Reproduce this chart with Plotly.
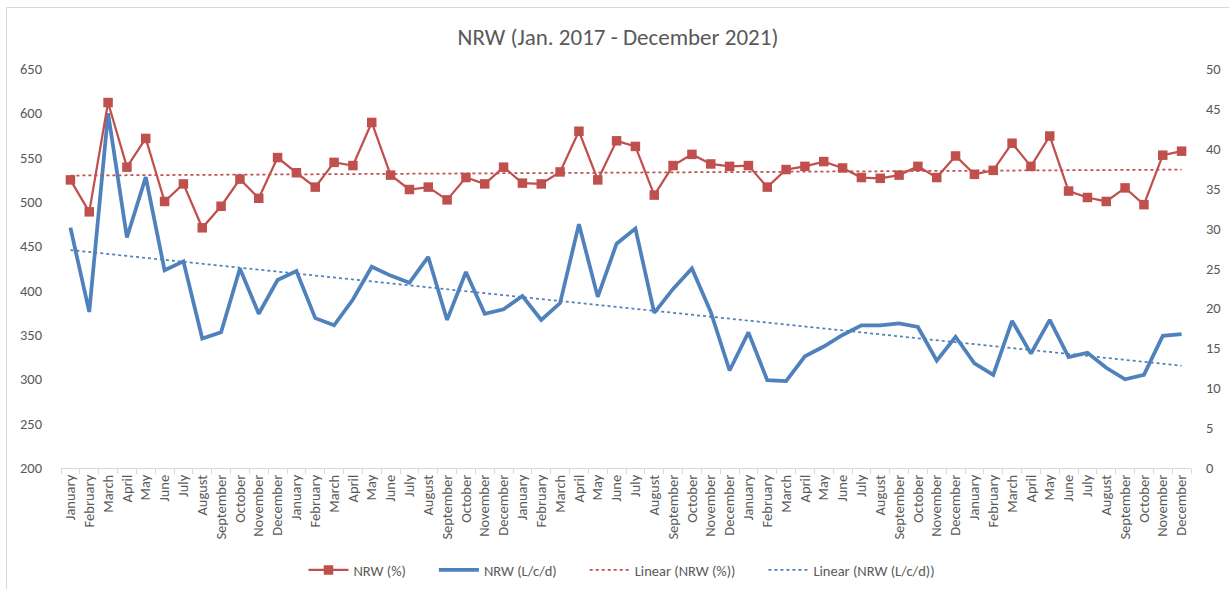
import numpy as np
import plotly.graph_objects as go

months = ["January", "February", "March", "April", "May", "June", "July",
          "August", "September", "October", "November", "December"]
years = [2017, 2018, 2019, 2020, 2021]
tick_labels = months * len(years)

# NRW (%) - right axis
nrw_pct = [36.1, 32.1, 45.8, 37.7, 41.3, 33.4, 35.6, 30.1, 32.8, 36.2, 33.8, 38.9,
           37.0, 35.2, 38.3, 37.9, 43.3, 36.7, 34.9, 35.2, 33.6, 36.4, 35.6, 37.7,
           35.7, 35.6, 37.1, 42.2, 36.1, 41.0, 40.3, 34.2, 37.9, 39.3, 38.1, 37.8,
           37.9, 35.2, 37.4, 37.8, 38.4, 37.6, 36.4, 36.3, 36.7, 37.8, 36.4, 39.1,
           36.8, 37.3, 40.7, 37.8, 41.6, 34.7, 33.9, 33.4, 35.1, 33.0, 39.2, 39.7]

# NRW (L/c/d) - left axis
nrw_lcd = [471, 376, 600, 460, 528, 423, 433, 346, 353, 425, 374, 412,
           422, 369, 361, 390, 427, 417, 409, 438, 367, 421, 374, 379,
           394, 367, 386, 475, 393, 453, 470, 375, 402, 425, 376, 310,
           353, 299, 298, 326, 337, 350, 361, 361, 363, 359, 321, 348,
           318, 305, 366, 329, 367, 325, 330, 313, 300, 305, 349, 351]

series_names = ["NRW (%)", "NRW (L/c/d)", "Linear (NRW (%))", "Linear (NRW (L/c/d))"]

x = np.arange(len(tick_labels))

# Linear trendlines (least squares, like Excel "Linear" trendline)
p_pct = np.polyfit(x, nrw_pct, 1)
p_lcd = np.polyfit(x, nrw_lcd, 1)
trend_pct = np.polyval(p_pct, x)
trend_lcd = np.polyval(p_lcd, x)

RED = "#C0504D"
BLUE = "#4F81BD"
TXT = "#595959"
FONT = "Carlito, Calibri, Lato, sans-serif"
PAD = "\u00a0" * 7

fig = go.Figure()
fig.add_trace(go.Scatter(x=x, y=nrw_pct, name=series_names[0] + PAD, yaxis="y2",
                         mode="lines+markers", line=dict(color=RED, width=2.25),
                         marker=dict(symbol="square", size=9.5, color=RED)))
fig.add_trace(go.Scatter(x=x, y=nrw_lcd, name=series_names[1] + PAD, mode="lines",
                         line=dict(color=BLUE, width=3.75)))
fig.add_trace(go.Scatter(x=x, y=trend_pct, name=series_names[2] + PAD, yaxis="y2", mode="lines",
                         line=dict(color=RED, width=1.75, dash="dot")))
fig.add_trace(go.Scatter(x=x, y=trend_lcd, name=series_names[3], mode="lines",
                         line=dict(color=BLUE, width=1.75, dash="dot")))

L, R, T, B = 61, 38, 69, 121
W, H = 1229, 589
pw, ph = W - L - R, H - T - B

def px_x(p):
    return (p - L) / pw

def px_y(p):
    return (H - B - p) / ph

fig.update_layout(
    width=W, height=H,
    margin=dict(l=L, r=R, t=T, b=B, pad=0, autoexpand=False),
    paper_bgcolor="white", plot_bgcolor="white",
    font=dict(family=FONT, size=14, color=TXT),
    title=dict(text="NRW (Jan. 2017 - December 2021)", x=px_x(618), xref="paper",
               xanchor="center", y=1 - 37 / H, yref="container", yanchor="middle",
               font=dict(size=23, color=TXT, family=FONT)),
    xaxis=dict(range=[-0.5, len(x) - 0.5], tickvals=list(x), ticktext=tick_labels,
               tickangle=-90, ticks="", showgrid=False, zeroline=False,
               showline=True, linecolor="#D9D9D9", linewidth=1, automargin=False,
               tickfont=dict(size=14.5, color=TXT, family=FONT),
               minor=dict(tickvals=[i - 0.5 for i in range(len(x) + 1)], ticks="outside",
                          ticklen=5, tickcolor="#D9D9D9", tickwidth=1, showgrid=False)),
    yaxis=dict(range=[200, 650], dtick=50, showgrid=False, zeroline=False, showline=False,
               ticks="", ticklabelstandoff=18, automargin=False,
               tickfont=dict(size=14.5, color=TXT)),
    yaxis2=dict(range=[0, 50], dtick=5, overlaying="y", side="right", showgrid=False,
                zeroline=False, showline=False, ticks="", ticklabelstandoff=14,
                automargin=False, tickfont=dict(size=14.5, color=TXT)),
    legend=dict(orientation="h", x=px_x(622), xanchor="center",
                y=1 - 570 / H, yref="container", yanchor="middle",
                font=dict(size=14.5, color=TXT), itemwidth=40, tracegroupgap=0,
                bgcolor="rgba(0,0,0,0)"),
    showlegend=True,
    shapes=[dict(type="rect", xref="paper", yref="paper",
                 x0=px_x(6.5), x1=px_x(1250), y0=px_y(610), y1=px_y(7.5),
                 line=dict(color="#D9D9D9", width=1), fillcolor="rgba(0,0,0,0)", layer="below")],
)

fig.write_html("out.html", config={"displayModeBar": False},
               post_script="document.body.style.margin='0';")
